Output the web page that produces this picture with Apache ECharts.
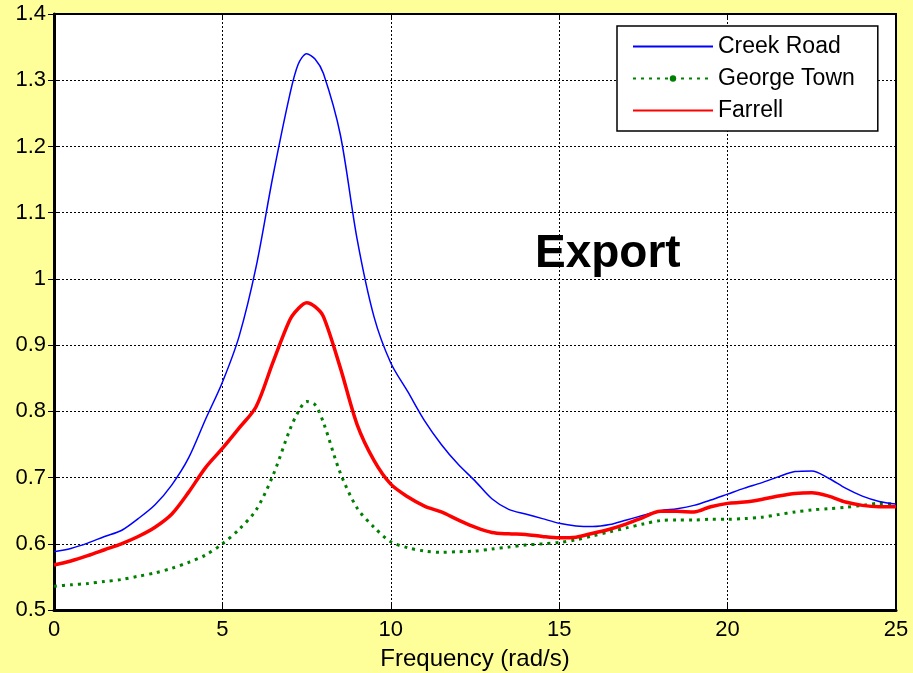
<!DOCTYPE html>
<html>
<head>
<meta charset="utf-8">
<script src="https://cdn.jsdelivr.net/npm/echarts@6/dist/echarts.min.js"></script>
<style>
html,body{margin:0;padding:0;background:#FFFF99;}
#chart{width:913px;height:673px;}
</style>
</head>
<body>
<div id="chart"></div>
<script>
var freq = [0,0.5,1,1.5,2,2.5,3,3.5,4,4.5,5,5.5,6,6.5,7,7.25,7.5,7.75,8,8.5,9,9.5,10,10.5,11,11.5,12,12.5,13,13.5,14,14.5,15,15.5,16,16.5,17,17.5,18,18.5,19,19.5,20,20.5,21,21.5,22,22.5,23,23.5,24,24.5,25];
var creekRoad = [0.588,0.593,0.601,0.611,0.620,0.638,0.659,0.689,0.730,0.788,0.844,0.914,1.018,1.155,1.278,1.324,1.340,1.332,1.310,1.218,1.060,0.943,0.873,0.830,0.786,0.750,0.720,0.695,0.668,0.652,0.645,0.638,0.631,0.627,0.626,0.629,0.636,0.643,0.650,0.653,0.658,0.666,0.675,0.684,0.692,0.701,0.709,0.710,0.699,0.684,0.672,0.664,0.660];
var georgeTown = [0.536,0.538,0.540,0.543,0.546,0.551,0.556,0.563,0.572,0.583,0.600,0.622,0.651,0.703,0.772,0.799,0.815,0.810,0.783,0.707,0.654,0.625,0.603,0.594,0.589,0.587,0.588,0.589,0.592,0.595,0.598,0.600,0.602,0.606,0.612,0.618,0.624,0.630,0.635,0.636,0.636,0.637,0.637,0.638,0.640,0.644,0.648,0.651,0.653,0.655,0.658,0.661,0.660];
var farrell = [0.568,0.574,0.582,0.591,0.600,0.611,0.625,0.645,0.678,0.715,0.744,0.775,0.807,0.874,0.938,0.955,0.964,0.958,0.943,0.866,0.780,0.726,0.690,0.671,0.657,0.648,0.636,0.625,0.617,0.615,0.614,0.611,0.609,0.610,0.616,0.622,0.630,0.640,0.649,0.649,0.648,0.656,0.661,0.663,0.667,0.672,0.676,0.677,0.672,0.663,0.658,0.656,0.656];
var seriesNames = ['Creek Road','George Town','Farrell'];
var xAxisTitle = 'Frequency (rad/s)';
var annotation = 'Export';

function pairs(ys){ return freq.map(function(x,i){ return [x, ys[i]]; }); }

var chart = echarts.init(document.getElementById('chart'), null, {renderer:'canvas'});
var font = 'Arial, "Liberation Sans", sans-serif';
var gridLine = {show:true, lineStyle:{color:'#000', type:[2,2], width:1}};
chart.setOption({
  backgroundColor:'#FFFF99',
  animation:false,
  grid:{left:54, right:17, top:14, bottom:63, containLabel:false, outerBoundsMode:'none',
        show:true, backgroundColor:'#fff', borderColor:'#000', borderWidth:2},
  xAxis:[{
    type:'value', min:0, max:25, interval:5,
    name:xAxisTitle, nameLocation:'middle', nameGap:37,
    nameTextStyle:{fontFamily:font, fontSize:24, color:'#000'},
    axisLine:{show:true, lineStyle:{color:'#000', width:3}},
    axisTick:{show:true, inside:true, length:6, lineStyle:{color:'#000', width:1}},
    axisLabel:{fontFamily:font, fontSize:22, color:'#000', margin:9},
    splitLine:gridLine
  },{
    type:'value', min:0, max:25, interval:5, position:'top',
    axisLine:{show:true, lineStyle:{color:'#000', width:2}},
    axisTick:{show:true, inside:true, length:6, lineStyle:{color:'#000'}},
    axisLabel:{show:false}, splitLine:{show:false}
  }],
  yAxis:[{
    type:'value', min:0.5, max:1.4, interval:0.1,
    axisLine:{show:true, lineStyle:{color:'#000', width:3}},
    axisTick:{show:true, inside:true, length:6, lineStyle:{color:'#000', width:1}},
    axisLabel:{fontFamily:font, fontSize:22, color:'#000', margin:8},
    splitLine:gridLine
  },{
    type:'value', min:0.5, max:1.4, interval:0.1, position:'right',
    axisLine:{show:true, lineStyle:{color:'#000', width:2}},
    axisTick:{show:true, inside:true, length:6, lineStyle:{color:'#000'}},
    axisLabel:{show:false}, splitLine:{show:false}
  }],
  legend:{
    orient:'vertical', left:617, top:26,
    padding:[9,23,9,15], itemGap:9, itemWidth:80, itemHeight:8,
    backgroundColor:'#fff', borderColor:'#000', borderWidth:1.5,
    textStyle:{fontFamily:font, fontSize:23, color:'#000'},
    data:[
      {name:seriesNames[0], itemStyle:{opacity:0}},
      {name:seriesNames[1]},
      {name:seriesNames[2], itemStyle:{opacity:0}}
    ]
  },
  graphic:[{
    type:'text', left:535, top:231, z:100,
    style:{text:annotation, font:'bold 46px Arial, "Liberation Sans", sans-serif', fill:'#000'}
  }],
  series:[{
    name:seriesNames[0], type:'line', data:pairs(creekRoad), smooth:0.3, symbol:'none',
    lineStyle:{color:'#0000FF', width:1.5}, itemStyle:{color:'#0000FF'}, z:3
  },{
    name:seriesNames[1], type:'line', data:pairs(georgeTown), smooth:0.3, symbol:'circle', showSymbol:false, symbolSize:7,
    lineStyle:{color:'#008000', width:3, type:[3,5]}, itemStyle:{color:'#008000'}, z:2
  },{
    name:seriesNames[2], type:'line', data:pairs(farrell), smooth:0.3, symbol:'none',
    lineStyle:{color:'#FF0000', width:3.5}, itemStyle:{color:'#FF0000'}, z:4
  }]
});
</script>
</body>
</html>
